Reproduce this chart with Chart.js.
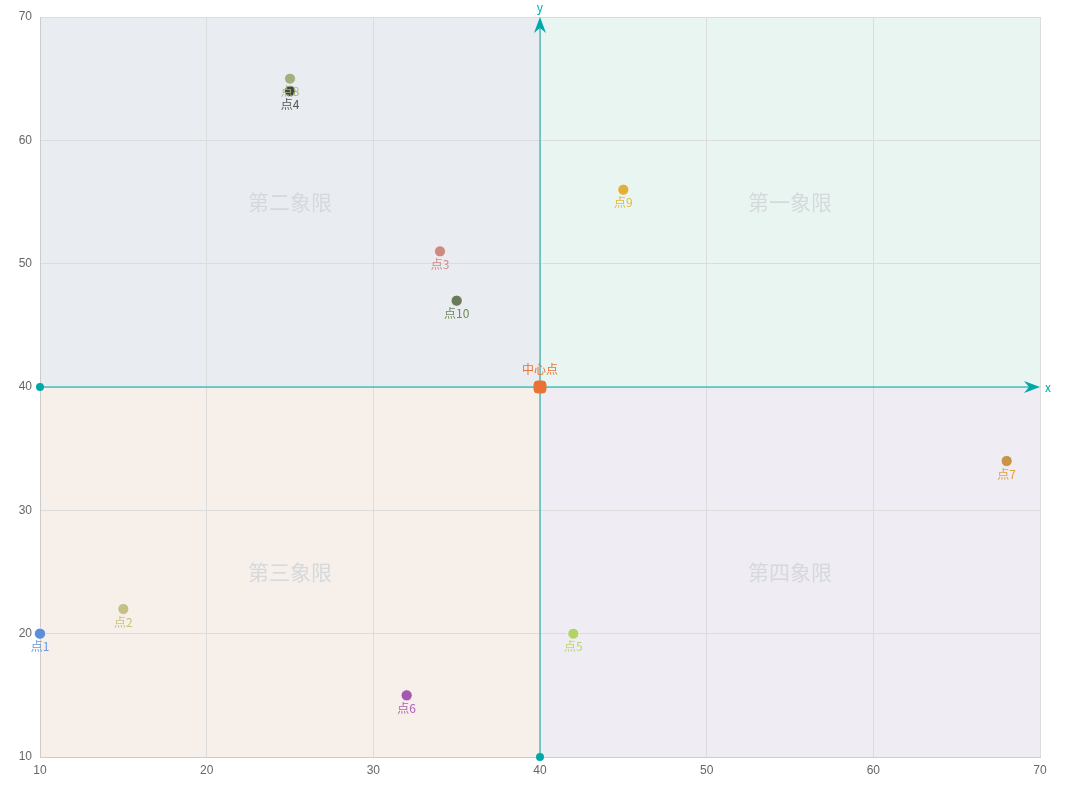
<!DOCTYPE html>
<html>
<head>
<meta charset="utf-8">
<script src="https://cdn.jsdelivr.net/npm/chart.js@4"></script>
<style>
  html, body { margin: 0; padding: 0; background: #fff; }
  #wrap { width: 1071px; height: 796px; }
</style>
</head>
<body>
<div id="wrap"><canvas id="c"></canvas></div>
<script>
const names = ['点1', '点2', '点3', '点4', '点5', '点6', '点7', '点8', '点9', '点10'];
const xs = [10, 15, 34, 25, 42, 32, 68, 25, 45, 35];
const ys = [20, 22, 51, 64, 20, 15, 34, 65, 56, 47];
const colors = ['#5b8ed6', '#c6bf86', '#cf8a80', '#454545', '#b2d36a', '#a658b0', '#c99448', '#a6ae80', '#e1b03c', '#687a58'];
const labelColors = ['#6a9ad8', '#ccc37a', '#d08a80', '#555555', '#b8d86a', '#b060b8', '#e0a040', '#a8b880', '#e6b830', '#6f8a60'];
const center = { x: 40, y: 40 };
const quadrantNames = ['第一象限', '第二象限', '第三象限', '第四象限'];
const quadrantFills = ['#e8f5f1', '#e9edf1', '#f7efea', '#efecf3'];

const teal = '#00a8a8';

const quadrantPlugin = {
  id: 'quadrants',
  beforeDraw(chart) {
    const { ctx, chartArea: a, scales: { x, y } } = chart;
    const cx = x.getPixelForValue(center.x), cy = y.getPixelForValue(center.y);
    ctx.save();
    const rects = [
      [cx, a.top, a.right - cx, cy - a.top],
      [a.left, a.top, cx - a.left, cy - a.top],
      [a.left, cy, cx - a.left, a.bottom - cy],
      [cx, cy, a.right - cx, a.bottom - cy]
    ];
    rects.forEach((r, i) => {
      ctx.fillStyle = quadrantFills[i];
      ctx.fillRect(r[0], r[1], r[2], r[3]);
    });
    ctx.restore();
  },
  beforeDatasetsDraw(chart) {
    const { ctx, chartArea: a, scales: { x, y } } = chart;
    const cx = x.getPixelForValue(center.x), cy = y.getPixelForValue(center.y);
    ctx.save();
    ctx.fillStyle = '#d6d9dc';
    ctx.font = '21px "Noto Sans CJK SC"';
    ctx.textAlign = 'center';
    ctx.textBaseline = 'middle';
    const qy1 = y.getPixelForValue(55), qy2 = y.getPixelForValue(25);
    const qx1 = x.getPixelForValue(55), qx2 = x.getPixelForValue(25);
    ctx.fillText(quadrantNames[0], qx1, qy1);
    ctx.fillText(quadrantNames[1], qx2, qy1);
    ctx.fillText(quadrantNames[2], qx2, qy2);
    ctx.fillText(quadrantNames[3], qx1, qy2);
    // axes
    ctx.strokeStyle = teal;
    ctx.fillStyle = teal;
    ctx.lineWidth = 1;
    ctx.beginPath();
    ctx.moveTo(a.left, cy); ctx.lineTo(a.right - 4, cy);
    ctx.moveTo(cx, a.bottom); ctx.lineTo(cx, a.top + 4);
    ctx.stroke();
    ctx.beginPath();
    ctx.arc(a.left, cy, 4, 0, Math.PI * 2);
    ctx.arc(cx, a.bottom, 4, 0, Math.PI * 2);
    ctx.fill();
    ctx.beginPath();
    ctx.moveTo(a.right, cy); ctx.lineTo(a.right - 16, cy - 6); ctx.lineTo(a.right - 11, cy); ctx.lineTo(a.right - 16, cy + 6); ctx.closePath();
    ctx.moveTo(cx, a.top); ctx.lineTo(cx - 6, a.top + 16); ctx.lineTo(cx, a.top + 11); ctx.lineTo(cx + 6, a.top + 16); ctx.closePath();
    ctx.fill();
    ctx.font = '12px "Noto Sans CJK SC"';
    ctx.textAlign = 'left';
    ctx.fillText('x', a.right + 5, cy);
    ctx.textAlign = 'center';
    ctx.fillText('y', cx, a.top - 10);
    ctx.restore();
  },
  afterDatasetsDraw(chart) {
    const { ctx, scales: { x, y } } = chart;
    ctx.save();
    ctx.font = '12px "Noto Sans CJK SC"';
    ctx.textAlign = 'center';
    ctx.textBaseline = 'top';
    names.forEach((n, i) => {
      ctx.fillStyle = labelColors[i];
      ctx.fillText(n, x.getPixelForValue(xs[i]), y.getPixelForValue(ys[i]) + 7);
    });
    ctx.fillStyle = '#ea7236';
    ctx.textBaseline = 'bottom';
    ctx.fillText('中心点', x.getPixelForValue(center.x), y.getPixelForValue(center.y) - 12);
    ctx.restore();
  }
};

new Chart(document.getElementById('c'), {
  type: 'scatter',
  data: {
    datasets: [
      {
        data: xs.map((v, i) => ({ x: v, y: ys[i] })),
        backgroundColor: colors,
        borderColor: 'rgba(255,255,255,0.6)',
        borderWidth: 1,
        pointRadius: 5.5,
        clip: false
      },
      {
        data: [{ x: center.x, y: center.y }],
        pointStyle: 'rectRounded',
        backgroundColor: '#ea7236',
        borderColor: '#ea7236',
        pointRadius: 7,
        clip: false
      }
    ]
  },
  options: {
    responsive: true,
    maintainAspectRatio: false,
    animation: false,
    layout: { padding: { top: 17, right: 31, left: 0, bottom: 0 } },
    plugins: { legend: { display: false }, tooltip: { enabled: false } },
    scales: {
      x: {
        min: 10, max: 70,
        ticks: { stepSize: 10, color: '#666', font: { size: 12 }, padding: 6 },
        grid: { color: '#dcdcdc', drawTicks: false },
        border: { color: '#ccc' },
        afterFit(s) { s.height = 39; }
      },
      y: {
        min: 10, max: 70,
        ticks: { stepSize: 10, color: '#666', font: { size: 12 }, padding: 8 },
        grid: { color: '#dcdcdc', drawTicks: false },
        border: { color: '#ccc' },
        afterFit(s) { s.width = 40; }
      }
    }
  },
  plugins: [quadrantPlugin]
});
</script>
</body>
</html>
